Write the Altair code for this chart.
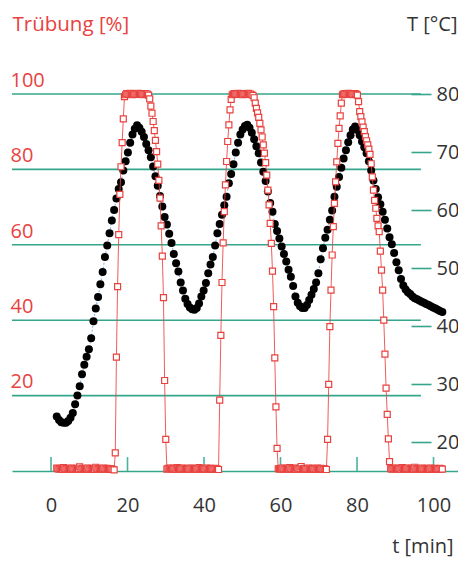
import altair as alt
import pandas as pd

FONT = "Open Sans"
RED = "#e8423f"
TEAL = "#35a68c"
TEAL_TICK = "#4ab49b"
DARK = "#333333"
BLUE = "#7aaee0"

# axis ticks / labels
x_ticks = [0, 20, 40, 60, 80, 100]
pct_ticks = [20, 40, 60, 80, 100]
temp_ticks = [20, 30, 40, 50, 60, 70, 80]

# temperature T [°C], sampled every 0.6 min, segment start times
T_STEP = 0.6
temp_seg1 = [24.4, 23.8, 23.4, 23.3, 23.3, 23.6, 24.2, 25.0, 26.5, 28.0,
             29.6, 31.7, 33.3, 34.7, 36.0, 37.9, 40.8, 43.0, 45.0, 47.2,
             49.3, 51.9, 53.9, 56.0, 58.2, 60.0, 62.0, 63.6, 64.8, 66.8,
             68.4, 69.9, 71.6, 73.0, 74.0, 74.6]
temp_seg2 = [74.2, 73.5, 72.6, 71.4, 70.3, 69.1, 67.5, 65.8, 64.2, 62.4,
             60.6, 58.8, 57.5, 55.9, 54.3, 52.4, 50.8, 49.4, 47.5, 46.1,
             44.7, 43.8, 43.2, 42.9, 42.8, 43.1, 43.9, 45.1, 46.1, 47.4,
             49.1, 50.6, 51.9, 53.9, 56.0, 57.6, 59.2, 60.8, 62.3, 64.6,
             66.2, 67.9, 69.9, 71.6, 73.0, 73.9, 74.5, 74.7]
temp_seg3 = [74.2, 73.3, 72.2, 71.0, 69.8, 68.2, 66.6, 65.0, 63.2, 61.2,
             59.7, 57.6, 56.4, 55.1, 53.7, 52.4, 51.1, 49.7, 48.5, 46.9,
             45.1, 44.0, 43.4, 43.1, 43.1, 43.6, 44.5, 45.4, 46.4, 47.5,
             49.1, 51.5, 53.4, 55.2, 56.6, 58.3, 59.9, 62.3, 64.0, 65.7,
             67.3, 68.9, 70.3, 71.7, 72.9, 73.9, 74.4]
temp_seg4 = [73.8, 72.9, 71.8, 70.8, 69.8, 68.4, 66.8, 65.1, 63.6, 62.2,
             61.0, 59.7, 58.3, 56.8, 55.3, 54.1, 52.6, 51.0, 49.6, 48.1,
             47.0, 46.3, 45.8, 45.5, 45.1, 44.8, 44.6, 44.4, 44.2, 44.0,
             43.8, 43.6, 43.4, 43.2, 43.0, 42.8, 42.6, 42.4]
temp_segments = [(1.5, temp_seg1), (23.1, temp_seg2), (51.9, temp_seg3), (80.1, temp_seg4)]

# turbidity [%], sampled every 0.3 min, segment start times
R_STEP = 0.3
base1 = [0.8, 0.6, 0.5, 0.7, 0.6, 0.5, 0.9, 0.6, 0.5, 0.6,
         0.7, 0.5, 0.6, 0.8, 0.6, 0.5, 0.6, 0.7, 0.5, 0.6,
         1.1, 0.6, 0.5, 0.7, 0.6, 0.5, 0.6, 0.8, 0.5, 0.6,
         0.7, 0.5, 0.6, 0.5, 1.0, 0.6, 0.5, 0.7, 0.6, 0.5,
         0.6, 0.8, 0.6, 0.5, 0.7, 0.6, 0.5, 0.6, 0.5, 0.4, 0.3]
rise1 = [4.8, 30.2, 48.9, 62.7, 73.4, 80.7, 87.1, 93.4, 99.3]
top1 = [99.8, 100.1, 100.0, 99.9, 100.2, 100.0, 99.8, 100.1, 100.0, 99.9,
        100.0, 100.2, 99.9, 100.0, 100.1, 99.8, 100.0, 100.1, 99.9, 100.0, 99.7]
fall1 = [98.7, 96.8, 94.9, 92.7, 90.3, 87.7, 84.7, 81.4, 77.1, 72.4,
         65.0, 57.0, 46.0, 24.0, 8.4]
base2 = [0.5, 0.7, 0.6, 0.8, 0.6, 0.5, 0.7, 0.6, 0.5, 0.9,
         0.6, 0.7, 0.5, 0.6, 0.8, 0.6, 0.5, 0.6, 0.7, 0.6,
         0.5, 0.8, 0.6, 0.5, 0.7, 0.6, 0.5, 0.6, 0.9, 0.6,
         0.5, 0.7, 0.6, 0.5, 0.6, 0.8, 0.5, 0.6, 0.7, 0.5,
         0.6, 0.5, 0.7, 0.6, 0.5, 0.4]
rise2 = [18.8, 36.0, 50.0, 60.5, 68.8, 75.9, 82.1, 87.4, 91.8, 95.8, 98.6]
top2 = [99.8, 100.0, 100.1, 99.9, 100.0, 100.2, 99.9, 100.0, 100.1, 99.8,
        100.0, 100.1, 99.9, 100.0, 100.2, 99.9, 100.0, 99.8, 99.6]
fall2 = [99.0, 97.6, 96.2, 95.0, 93.8, 92.2, 90.5, 88.6, 86.5, 84.3,
         81.8, 78.5, 74.5, 70.6, 65.7, 60.4, 53.0, 43.6, 30.0, 17.0, 6.0]
base3 = [0.6, 0.5, 0.7, 0.6, 0.8, 0.5, 0.6, 0.7, 0.5, 0.6,
         0.9, 0.6, 0.5, 0.7, 0.6, 0.5, 0.8, 0.6, 0.5, 0.7,
         1.2, 0.6, 0.5, 0.7, 0.6, 0.5, 0.6, 0.8, 0.5, 0.6,
         0.7, 0.5, 0.6, 0.5, 0.8, 0.6, 0.5, 0.7, 0.6, 0.5,
         0.6, 0.5, 0.4]
rise3 = [8.4, 23.0, 38.3, 48.0, 57.3, 64.8, 71.0, 76.7, 82.0, 86.9, 90.9, 94.2, 97.6]
top3 = [99.8, 100.0, 100.1, 99.9, 100.0, 100.2, 99.9, 100.0, 100.1, 99.8,
        100.0, 100.1, 99.9, 99.7, 98.0]
fall3 = [95.3, 94.0, 92.6, 91.2, 90.0, 88.7, 87.6, 86.5, 85.4, 84.0,
         81.5, 78.0, 74.5, 71.8, 69.7, 67.0, 65.0, 63.5, 58.3, 53.3,
         48.0, 40.0, 31.0, 22.0, 15.0, 8.5, 2.5]
base4 = [0.6, 0.5, 0.7, 0.6, 0.8, 0.6, 0.5, 0.7, 0.6, 0.5,
         0.9, 0.6, 0.5, 0.7, 0.6, 0.8, 0.5, 0.6, 0.7, 0.5,
         0.6, 1.0, 0.6, 0.5, 0.7, 0.6, 0.5, 0.6, 0.8, 0.5,
         0.6, 0.7, 0.5, 0.6, 0.5, 0.8, 0.6, 0.5, 0.7, 0.6,
         0.5, 0.6, 0.5, 0.7, 0.6, 0.5]
turb_segments = [(1.5, base1), (16.8, rise1), (19.5, top1), (25.8, fall1),
                 (30.3, base2), (44.1, rise2), (47.4, top2), (53.1, fall2),
                 (59.4, base3), (72.3, rise3), (76.2, top3), (80.7, fall3),
                 (88.8, base4)]


def build(segments, step, name):
    rows = []
    for start, vals in segments:
        for k, v in enumerate(vals):
            rows.append({"t": round(start + step * k, 2), name: v})
    return pd.DataFrame(rows)


temp_df = build(temp_segments, T_STEP, "T")
turb_df = build(turb_segments, R_STEP, "pct")
grid_df = pd.DataFrame({"pct": pct_ticks})
xtick_df = pd.DataFrame({"t": x_ticks})

X_DOMAIN = [-10.2, 106.4]
GRID_T0, GRID_T1 = -10.2, 96.7
TICK_H = 3.7

x_scale = alt.Scale(domain=X_DOMAIN, nice=False, zero=False)
pct_scale = alt.Scale(domain=[0, 100], nice=False, zero=False)
temp_scale = alt.Scale(domain=[15, 80], nice=False, zero=False)

x_axis = alt.Axis(
    orient="bottom", values=x_ticks, domain=True, domainColor=TEAL, domainWidth=1.6,
    ticks=False, tickSize=0, grid=False, labelColor=DARK, labelFont=FONT,
    labelFontSize=20, labelBaseline="alphabetic", labelPadding=40, labelFlush=False,
    labelOverlap=False, title="t [min]", titleFont=FONT, titleFontSize=20,
    titleFontWeight="normal", titleColor=DARK, titleAngle=0, titleAlign="right",
    titleBaseline="alphabetic", titleX=441, titleY=81,
)
left_axis = alt.Axis(
    orient="left", values=pct_ticks, domain=False, ticks=False, tickSize=0, grid=False,
    labelColor=RED, labelFont=FONT, labelFontSize=20, labelAlign="left",
    labelBaseline="alphabetic", labelPadding=2, labelOffset=-7.7, labelFlush=False,
    labelOverlap=False, title="Trübung [%]", titleColor=RED, titleFont=FONT,
    titleFontSize=20.5, titleFontWeight="normal", titleAngle=0, titleAlign="left",
    titleBaseline="alphabetic", titleX=0, titleY=-63.5,
)
right_axis = alt.Axis(
    orient="right", offset=-47, values=temp_ticks, domain=False, ticks=True,
    tickSize=20, tickColor=TEAL, tickWidth=1.6, grid=False, labelColor=DARK,
    labelFont=FONT, labelFontSize=20, labelPadding=5, labelBaseline="middle",
    labelFlush=False, labelOverlap=False, title="T [°C]", titleColor=DARK,
    titleFont=FONT, titleFontSize=20, titleFontWeight="normal", titleAngle=0,
    titleAlign="right", titleBaseline="alphabetic", titleX=46, titleY=-63.5,
)

grid = alt.Chart(grid_df).mark_rule(color=TEAL, strokeWidth=1.6).encode(
    x=alt.XDatum(GRID_T0, scale=x_scale, axis=x_axis),
    x2=alt.X2Datum(GRID_T1),
    y=alt.Y("pct:Q", scale=pct_scale, axis=None),
)
xticks = alt.Chart(xtick_df).mark_rule(color=TEAL_TICK, strokeWidth=1.6).encode(
    x=alt.X("t:Q", scale=x_scale, axis=x_axis),
    y=alt.YDatum(0, scale=pct_scale, axis=None),
    y2=alt.Y2Datum(TICK_H),
)
temp_line = alt.Chart(temp_df).mark_line(color=BLUE, strokeWidth=1, strokeDash=[2, 2]).encode(
    x=alt.X("t:Q", scale=x_scale, axis=x_axis),
    y=alt.Y("T:Q", scale=temp_scale, axis=None),
)
temp_dots = alt.Chart(temp_df).mark_circle(color="black", size=64, opacity=1).encode(
    x=alt.X("t:Q", scale=x_scale, axis=x_axis),
    y=alt.Y("T:Q", scale=temp_scale, axis=right_axis),
)
turb_line = alt.Chart(turb_df).mark_line(color=RED, strokeWidth=1, opacity=0.85).encode(
    x=alt.X("t:Q", scale=x_scale, axis=x_axis),
    y=alt.Y("pct:Q", scale=pct_scale, axis=left_axis),
)
turb_pts = alt.Chart(turb_df).mark_point(
    shape="square", size=36, filled=True, fill="white", stroke=RED, strokeWidth=1.2, opacity=1
).encode(
    x=alt.X("t:Q", scale=x_scale, axis=x_axis),
    y=alt.Y("pct:Q", scale=pct_scale, axis=None),
)

chart = (
    alt.layer(grid, xticks, temp_line, temp_dots, turb_line, turb_pts)
    .resolve_scale(y="independent")
    .properties(
        width=446, height=377,
        padding={"left": 4, "top": 86, "right": 0, "bottom": 87},
        autosize=alt.AutoSizeParams(type="none"),
        background="white",
    )
    .configure_view(strokeWidth=0)
)

chart.save("out.html", embed_options={"renderer": "svg", "actions": False})
